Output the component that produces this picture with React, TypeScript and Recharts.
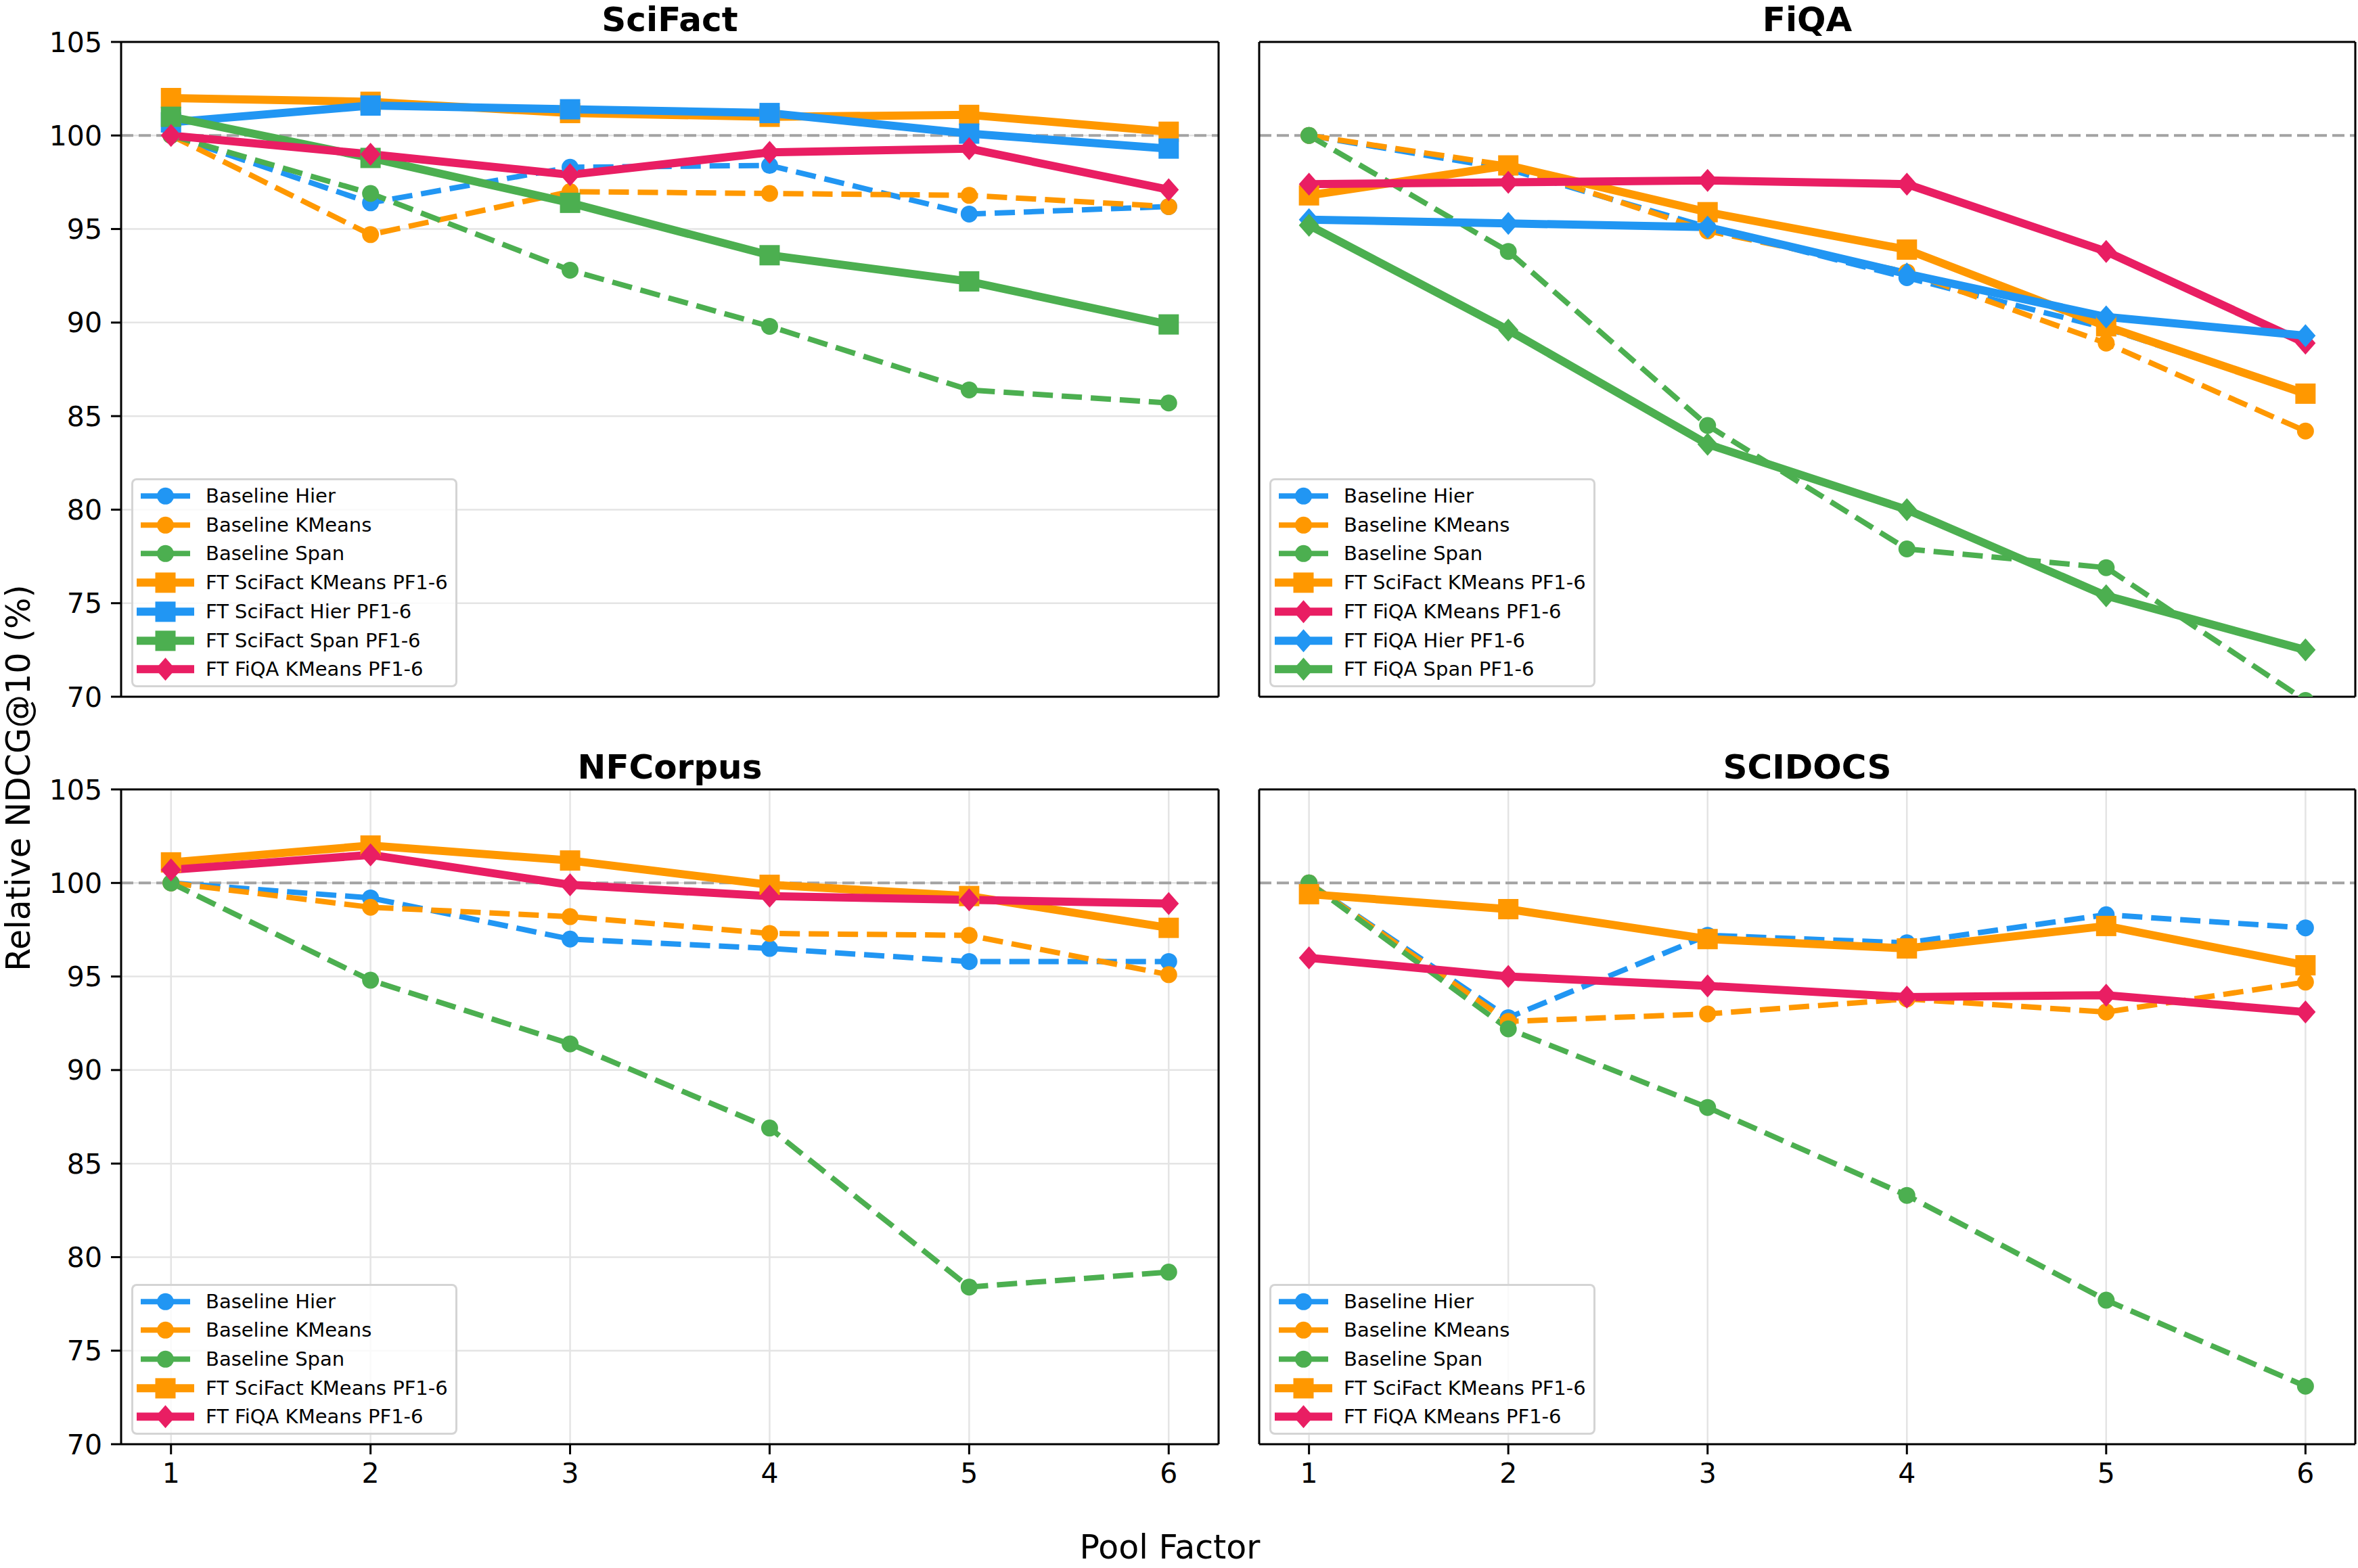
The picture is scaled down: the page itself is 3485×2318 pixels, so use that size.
import React from 'react';
import { LineChart, Line, XAxis, YAxis, CartesianGrid, ReferenceLine } from 'recharts';

const poolFactors = [1, 2, 3, 4, 5, 6];
const yTicks = [70, 75, 80, 85, 90, 95, 100, 105];

// SciFact panel
const sciFactBaselineHier = [100, 96.4, 98.3, 98.4, 95.8, 96.2];
const sciFactBaselineKMeans = [100, 94.7, 97.0, 96.9, 96.8, 96.2];
const sciFactBaselineSpan = [100, 96.9, 92.8, 89.8, 86.4, 85.7];
const sciFactFtSciFactKMeans = [102.0, 101.8, 101.2, 101.0, 101.1, 100.2];
const sciFactFtSciFactHier = [100.7, 101.6, 101.4, 101.2, 100.1, 99.3];
const sciFactFtSciFactSpan = [101.0, 98.8, 96.4, 93.6, 92.2, 89.9];
const sciFactFtFiqaKMeans = [100.0, 99.0, 97.9, 99.1, 99.3, 97.1];

// FiQA panel
const fiqaBaselineHier = [100, 98.2, 95.1, 92.4, 89.7, 86.2];
const fiqaBaselineKMeans = [100, 98.4, 94.9, 92.7, 88.9, 84.2];
const fiqaBaselineSpan = [100, 93.8, 84.5, 77.9, 76.9, 69.8];
const fiqaFtSciFactKMeans = [96.8, 98.4, 95.9, 93.9, 89.8, 86.2];
const fiqaFtFiqaKMeans = [97.4, 97.5, 97.6, 97.4, 93.8, 88.9];
const fiqaFtFiqaHier = [95.5, 95.3, 95.1, 92.6, 90.3, 89.3];
const fiqaFtFiqaSpan = [95.2, 89.6, 83.5, 80.0, 75.4, 72.5];

// NFCorpus panel
const nfBaselineHier = [100, 99.2, 97.0, 96.5, 95.8, 95.8];
const nfBaselineKMeans = [100, 98.7, 98.2, 97.3, 97.2, 95.1];
const nfBaselineSpan = [100, 94.8, 91.4, 86.9, 78.4, 79.2];
const nfFtSciFactKMeans = [101.1, 102.0, 101.2, 99.9, 99.3, 97.6];
const nfFtFiqaKMeans = [100.7, 101.5, 99.9, 99.3, 99.1, 98.9];

// SCIDOCS panel
const scidocsBaselineHier = [100, 92.8, 97.2, 96.8, 98.3, 97.6];
const scidocsBaselineKMeans = [100, 92.6, 93.0, 93.8, 93.1, 94.7];
const scidocsBaselineSpan = [100, 92.2, 88.0, 83.3, 77.7, 73.1];
const scidocsFtSciFactKMeans = [99.4, 98.6, 97.0, 96.5, 97.7, 95.6];
const scidocsFtFiqaKMeans = [96.0, 95.0, 94.5, 93.9, 94.0, 93.1];

const BLUE = '#2196F3';
const ORANGE = '#FF9800';
const GREEN = '#4CAF50';
const PINK = '#E91E63';
const FONT = '"DejaVu Sans", sans-serif';

type Shape = 'circle' | 'square' | 'diamond';
const seriesStyle: Record<string, { color: string; shape: Shape; dashed: boolean }> = {
  'Baseline Hier': { color: BLUE, shape: 'circle', dashed: true },
  'Baseline KMeans': { color: ORANGE, shape: 'circle', dashed: true },
  'Baseline Span': { color: GREEN, shape: 'circle', dashed: true },
  'FT SciFact KMeans PF1-6': { color: ORANGE, shape: 'square', dashed: false },
  'FT SciFact Hier PF1-6': { color: BLUE, shape: 'square', dashed: false },
  'FT SciFact Span PF1-6': { color: GREEN, shape: 'square', dashed: false },
  'FT FiQA KMeans PF1-6': { color: PINK, shape: 'diamond', dashed: false },
  'FT FiQA Hier PF1-6': { color: BLUE, shape: 'diamond', dashed: false },
  'FT FiQA Span PF1-6': { color: GREEN, shape: 'diamond', dashed: false },
};

interface Series { name: string; values: number[] }
interface Panel {
  title: string;
  series: Series[];
  plot: { x: number; y: number; w: number; h: number };
  xLabels: boolean;
  yLabels: boolean;
}

const panels: Panel[] = [
  {
    title: 'SciFact',
    series: [
      { name: 'Baseline Hier', values: sciFactBaselineHier },
      { name: 'Baseline KMeans', values: sciFactBaselineKMeans },
      { name: 'Baseline Span', values: sciFactBaselineSpan },
      { name: 'FT SciFact KMeans PF1-6', values: sciFactFtSciFactKMeans },
      { name: 'FT SciFact Hier PF1-6', values: sciFactFtSciFactHier },
      { name: 'FT SciFact Span PF1-6', values: sciFactFtSciFactSpan },
      { name: 'FT FiQA KMeans PF1-6', values: sciFactFtFiqaKMeans },
    ],
    plot: { x: 179, y: 62, w: 1622, h: 968 },
    xLabels: false,
    yLabels: true,
  },
  {
    title: 'FiQA',
    series: [
      { name: 'Baseline Hier', values: fiqaBaselineHier },
      { name: 'Baseline KMeans', values: fiqaBaselineKMeans },
      { name: 'Baseline Span', values: fiqaBaselineSpan },
      { name: 'FT SciFact KMeans PF1-6', values: fiqaFtSciFactKMeans },
      { name: 'FT FiQA KMeans PF1-6', values: fiqaFtFiqaKMeans },
      { name: 'FT FiQA Hier PF1-6', values: fiqaFtFiqaHier },
      { name: 'FT FiQA Span PF1-6', values: fiqaFtFiqaSpan },
    ],
    plot: { x: 1861, y: 62, w: 1620, h: 968 },
    xLabels: false,
    yLabels: false,
  },
  {
    title: 'NFCorpus',
    series: [
      { name: 'Baseline Hier', values: nfBaselineHier },
      { name: 'Baseline KMeans', values: nfBaselineKMeans },
      { name: 'Baseline Span', values: nfBaselineSpan },
      { name: 'FT SciFact KMeans PF1-6', values: nfFtSciFactKMeans },
      { name: 'FT FiQA KMeans PF1-6', values: nfFtFiqaKMeans },
    ],
    plot: { x: 179, y: 1167, w: 1622, h: 968 },
    xLabels: true,
    yLabels: true,
  },
  {
    title: 'SCIDOCS',
    series: [
      { name: 'Baseline Hier', values: scidocsBaselineHier },
      { name: 'Baseline KMeans', values: scidocsBaselineKMeans },
      { name: 'Baseline Span', values: scidocsBaselineSpan },
      { name: 'FT SciFact KMeans PF1-6', values: scidocsFtSciFactKMeans },
      { name: 'FT FiQA KMeans PF1-6', values: scidocsFtFiqaKMeans },
    ],
    plot: { x: 1861, y: 1167, w: 1620, h: 968 },
    xLabels: true,
    yLabels: false,
  },
];

const MarkerShape = ({ shape, color, cx, cy }: { shape: Shape; color: string; cx: number; cy: number }) => {
  if (shape === 'circle') return <circle cx={cx} cy={cy} r={12.5} fill={color} />;
  if (shape === 'square') return <rect x={cx - 15} y={cy - 15} width={30} height={30} fill={color} />;
  return <polygon points={`${cx},${cy - 17} ${cx + 15},${cy} ${cx},${cy + 17} ${cx - 15},${cy}`} fill={color} />;
};

const makeDot = (shape: Shape, color: string) => (props: any) => {
  const { cx, cy, index } = props;
  if (cx == null || cy == null) return <g key={index} />;
  return (
    <g key={index}>
      <MarkerShape shape={shape} color={color} cx={cx} cy={cy} />
    </g>
  );
};

const ROW_H = 42.7;

const LegendBox = ({ names, left, bottom }: { names: string[]; left: number; bottom: number }) => {
  const height = names.length * ROW_H + 10;
  return (
    <div
      style={{
        position: 'absolute',
        left,
        top: bottom - height,
        width: 482,
        height,
        boxSizing: 'border-box',
        border: '3px solid rgba(204,204,204,0.85)',
        borderRadius: 8,
        background: 'rgba(255,255,255,0.8)',
      }}
    >
      {names.map((name, i) => {
        const st = seriesStyle[name];
        const lw = st.dashed ? 8 : 12;
        return (
          <div key={name} style={{ position: 'absolute', left: 0, top: 2 + i * ROW_H, height: ROW_H, width: 476 }}>
            <svg width={100} height={ROW_H} style={{ position: 'absolute', left: 0, top: 0 }}>
              <line
                x1={st.dashed ? 11 : 5}
                x2={st.dashed ? 84 : 90}
                y1={ROW_H / 2}
                y2={ROW_H / 2}
                stroke={st.color}
                strokeWidth={lw}
              />
              <MarkerShape shape={st.shape} color={st.color} cx={47.5} cy={ROW_H / 2} />
            </svg>
            <div
              style={{
                position: 'absolute',
                left: 107,
                top: 0,
                lineHeight: `${ROW_H}px`,
                fontSize: 29,
                fontFamily: FONT,
                color: '#000',
                whiteSpace: 'nowrap',
              }}
            >
              {name}
            </div>
          </div>
        );
      })}
    </div>
  );
};

const axisStroke = { stroke: '#000', strokeWidth: 3 };
const tickFont = { fill: '#000', fontSize: 41, fontFamily: FONT };

const PanelChart = ({ panel }: { panel: Panel }) => {
  const { plot } = panel;
  const data = poolFactors.map((pf, i) => {
    const row: Record<string, number> = { pf };
    panel.series.forEach((s, k) => {
      row[`s${k}`] = s.values[i];
    });
    return row;
  });
  const width = plot.w + 130;
  const height = plot.h + 130;
  return (
    <>
      <div style={{ position: 'absolute', left: plot.x - 120, top: plot.y - 50, width, height }}>
        <LineChart width={width} height={height} data={data} margin={{ top: 50, right: 10, left: 10, bottom: 10 }}>
          <CartesianGrid stroke="#e4e4e4" strokeWidth={2.5} />
          <XAxis
            dataKey="pf"
            type="number"
            domain={[0.75, 6.25]}
            ticks={poolFactors}
            interval={0}
            height={70}
            tickSize={15}
            tickMargin={13}
            axisLine={axisStroke}
            tickLine={axisStroke}
            tick={panel.xLabels ? tickFont : false}
          />
          <YAxis
            type="number"
            domain={[70, 105]}
            ticks={yTicks}
            interval={0}
            allowDataOverflow
            width={110}
            tickSize={15}
            tickMargin={13}
            axisLine={axisStroke}
            tickLine={axisStroke}
            tick={panel.yLabels ? tickFont : false}
          />
          <ReferenceLine y={100} stroke="#a3a3a3" strokeWidth={4} strokeDasharray="18 8" />
          {panel.series.map((s, k) => {
            const st = seriesStyle[s.name];
            return (
              <Line
                key={s.name}
                dataKey={`s${k}`}
                name={s.name}
                type="linear"
                stroke={st.color}
                strokeWidth={st.dashed ? 8 : 12}
                strokeDasharray={st.dashed ? '30 13' : undefined}
                strokeLinejoin="round"
                dot={makeDot(st.shape, st.color)}
                activeDot={false}
                isAnimationActive={false}
              />
            );
          })}
          {/* top and right spines */}
          <ReferenceLine y={105} stroke="#000" strokeWidth={3} />
          <ReferenceLine x={6.25} stroke="#000" strokeWidth={3} />
        </LineChart>
      </div>
      <div
        style={{
          position: 'absolute',
          left: plot.x,
          width: plot.w,
          top: plot.y - 62,
          height: 58,
          lineHeight: '58px',
          textAlign: 'center',
          fontFamily: FONT,
          fontWeight: 'bold',
          fontSize: 50,
          color: '#000',
        }}
      >
        {panel.title}
      </div>
      <LegendBox names={panel.series.map((s) => s.name)} left={plot.x + 15} bottom={plot.y + plot.h - 14} />
    </>
  );
};

const App = () => (
  <div
    style={{
      position: 'absolute',
      left: 0,
      top: 0,
      width: 3485,
      height: 2318,
      background: '#fff',
      overflow: 'hidden',
      fontFamily: FONT,
    }}
  >
    {panels.map((p) => (
      <PanelChart key={p.title} panel={p} />
    ))}
    <div
      style={{
        position: 'absolute',
        left: 28 - 400,
        top: 1150 - 26,
        width: 800,
        height: 52,
        lineHeight: '52px',
        textAlign: 'center',
        fontSize: 49,
        color: '#000',
        transform: 'rotate(-90deg)',
      }}
    >
      Relative NDCG@10 (%)
    </div>
    <div
      style={{
        position: 'absolute',
        left: 1729 - 300,
        top: 2262,
        width: 600,
        height: 52,
        lineHeight: '52px',
        textAlign: 'center',
        fontSize: 49,
        color: '#000',
      }}
    >
      Pool Factor
    </div>
  </div>
);

export default App;
